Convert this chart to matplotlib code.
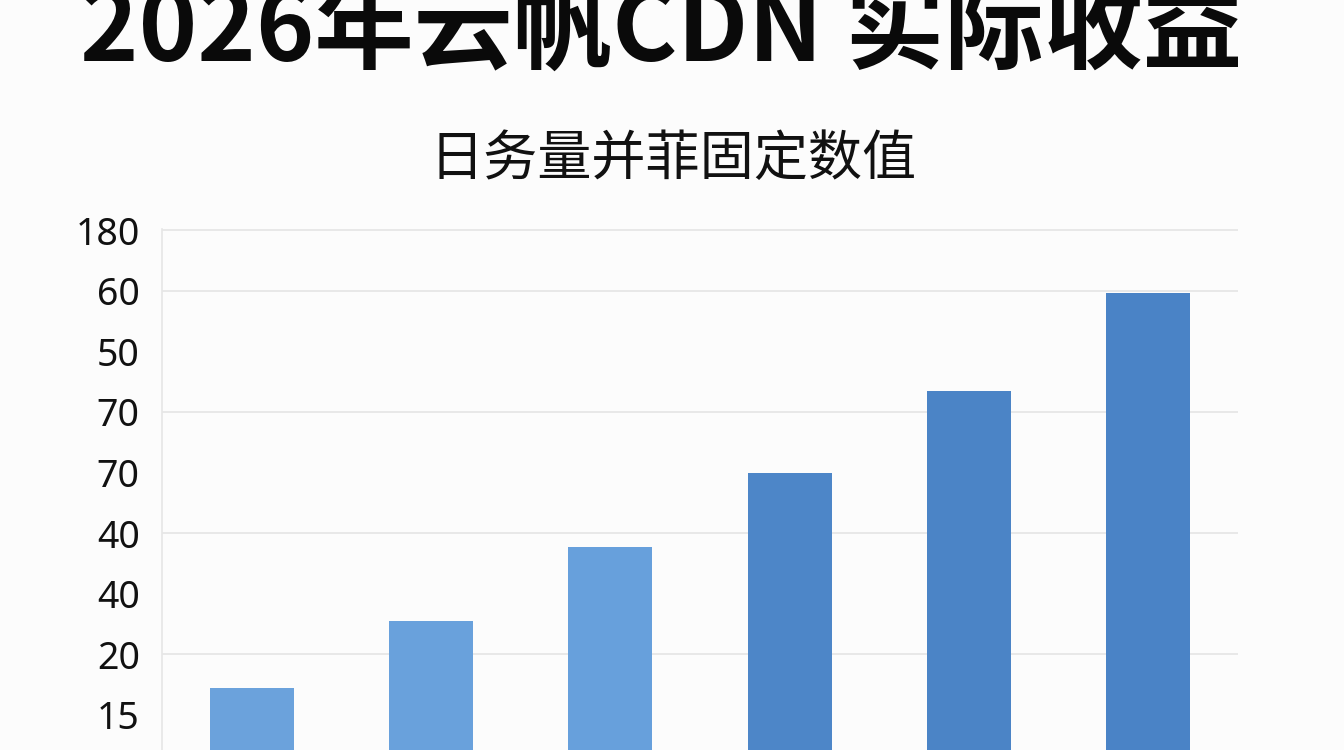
import matplotlib.pyplot as plt

plt.rcParams['font.family'] = ['Noto Sans CJK SC', 'DejaVu Sans']

# 数据 (纵轴刻度标签原样保留, 位置按图中等距排列)
title = '2026年云帆CDN 实际收益'
subtitle = '日务量并菲固定数值'
tick_labels = ['15', '20', '40', '40', '70', '70', '50', '60', '180']
tick_pos = [1, 2, 3, 4, 5, 6, 7, 8, 9]
grid_pos = [2, 4, 6, 8, 9]
bar_values = [1.45, 2.55, 3.77, 5.0, 6.35, 7.97]
bar_colors = ['#6ba2dc', '#69a1dc', '#67a0dc', '#4d86c8', '#4b84c6', '#4a83c6']

W, H = 1344, 750
fig = plt.figure(figsize=(W / 100, H / 100), dpi=100)
fig.patch.set_facecolor('#fcfcfc')

fig.text(0.492, 0.958, title, ha='center', va='center', fontsize=71.5,
         fontweight='black', color='#0a0a0a')
fig.text(0.501, 0.787, subtitle, ha='center', va='center', fontsize=39,
         color='#111111')

# 轴区域: 左 162px, 右 1238px, 顶 229px, 延伸到底边
ax = fig.add_axes([162 / W, 0, (1238 - 162) / W, (750 - 229) / H])
ax.set_facecolor('#fcfcfc')

x = range(len(bar_values))
ax.hlines(grid_pos, -0.5, len(bar_values) - 0.5, color='#e6e6e6',
          linewidth=1.3, zorder=1)
ax.bar(x, bar_values, width=0.47, color=bar_colors, zorder=3)

ax.set_xlim(-0.5, len(bar_values) - 0.5)
ax.set_ylim(0.42, 9.02)
ax.set_xticks([])
ax.set_yticks(tick_pos)
ax.set_yticklabels(tick_labels, fontsize=27, color='#111111',
                   family=['Noto Sans', 'DejaVu Sans'])
ax.tick_params(axis='y', length=0, pad=16)

for s in ['top', 'right', 'bottom']:
    ax.spines[s].set_visible(False)
ax.spines['left'].set_color('#e6e6e6')
ax.spines['left'].set_linewidth(1.2)

fig.savefig('out.png', dpi=100, facecolor=fig.get_facecolor())
